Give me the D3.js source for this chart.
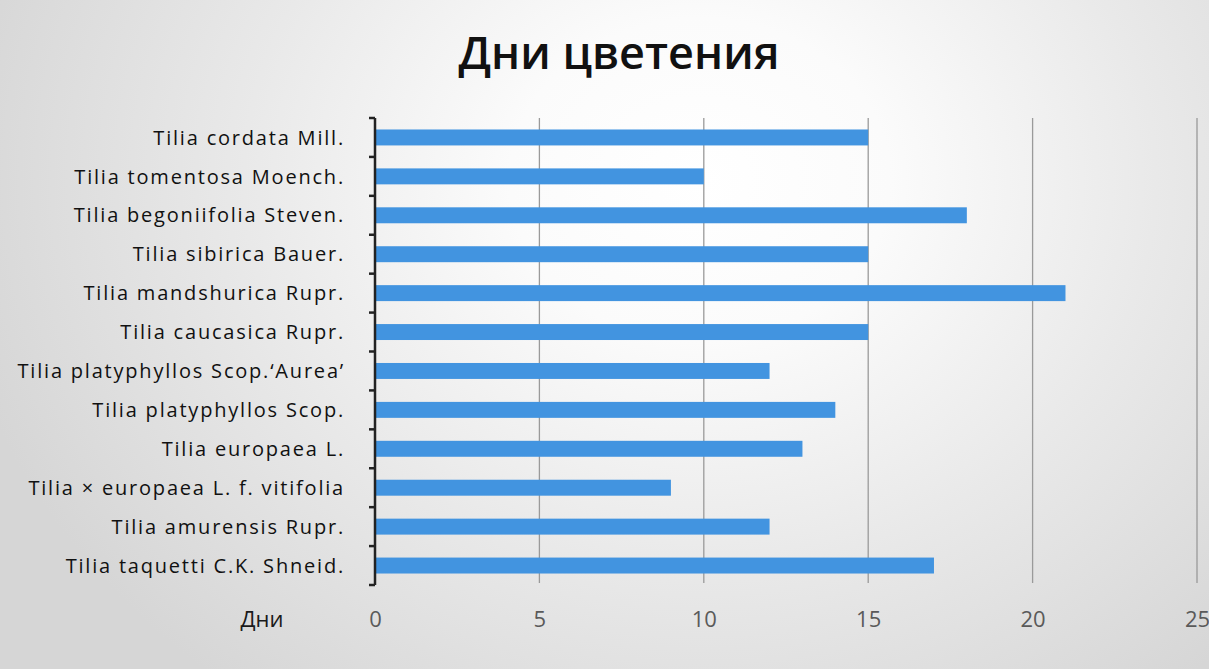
<!DOCTYPE html>
<html><head><meta charset="utf-8">
<script src="https://cdn.jsdelivr.net/npm/d3@7"></script>
<style>
html,body{margin:0;padding:0;background:#fff;}
svg{display:block;}
</style></head>
<body>
<svg id="chart" width="1209" height="669"></svg>
<script>
const title = "Дни цветения";
const axisName = "Дни";
const categories = [
  "Tilia cordata Mill.",
  "Tilia tomentosa Moench.",
  "Tilia begoniifolia Steven.",
  "Tilia sibirica Bauer.",
  "Tilia mandshurica Rupr.",
  "Tilia caucasica Rupr.",
  "Tilia platyphyllos Scop.‘Aurea’",
  "Tilia platyphyllos Scop.",
  "Tilia europaea L.",
  "Tilia × europaea L. f. vitifolia",
  "Tilia amurensis Rupr.",
  "Tilia taquetti C.K. Shneid."
];
const days = [15, 10, 18, 15, 21, 15, 12, 14, 13, 9, 12, 17];
const xTicks = [0, 5, 10, 15, 20, 25];

const W = 1209, H = 669;
const svg = d3.select("#chart");
const defs = svg.append("defs");
const rg = defs.append("radialGradient").attr("id","bg")
  .attr("gradientUnits","userSpaceOnUse")
  .attr("cx",700).attr("cy",180).attr("r",760)
  .attr("gradientTransform","translate(700,180) scale(1,0.85) translate(-700,-180)");
rg.append("stop").attr("offset","0").attr("stop-color","#ffffff");
rg.append("stop").attr("offset","0.25").attr("stop-color","#fbfbfb");
rg.append("stop").attr("offset","0.6").attr("stop-color","#e9e9e9");
rg.append("stop").attr("offset","1").attr("stop-color","#d6d6d6");
svg.append("rect").attr("width",W).attr("height",H).attr("fill","url(#bg)");

const mL = 375, mR = 1197, mT = 118, mB = 585;
const x = d3.scaleLinear().domain([0,25]).range([mL,mR]);
const y = d3.scaleBand().domain(categories).range([mT,mB]).paddingInner(0.59).paddingOuter(0.295);

// gridlines
svg.append("g").selectAll("line").data(xTicks.filter(d=>d>0)).join("line")
  .attr("x1",d=>x(d)).attr("x2",d=>x(d)).attr("y1",mT).attr("y2",mB-2)
  .attr("stroke","#9a9a9a").attr("stroke-width",1.3);

// bars
svg.append("g").selectAll("rect").data(categories).join("rect")
  .attr("x",x(0)).attr("y",d=>y(d)).attr("height",y.bandwidth())
  .attr("width",(d,i)=>x(days[i])-x(0))
  .attr("fill","#4294e0");

// y axis
const yAxisG = svg.append("g").attr("transform",`translate(${mL},0)`);
yAxisG.append("line").attr("x1",0).attr("x2",0).attr("y1",mT).attr("y2",mB)
  .attr("stroke","#222").attr("stroke-width",2.5);
const bounds = d3.range(categories.length+1).map(i=>mT + i*(mB-mT)/categories.length);
yAxisG.selectAll("line.tk").data(bounds).join("line").attr("class","tk")
  .attr("x1",-6).attr("x2",0).attr("y1",d=>d).attr("y2",d=>d)
  .attr("stroke","#222").attr("stroke-width",2.5);
yAxisG.selectAll("text").data(categories).join("text")
  .attr("x",-30).attr("y",d=>y(d)+y.bandwidth()/2)
  .attr("dy","0.36em").attr("text-anchor","end")
  .attr("font-family","'Open Sans',sans-serif")
  .attr("font-size",20).attr("fill","#111")
  .attr("letter-spacing","1.8")
  .text(d=>d);

// x axis labels
const xAxisG = svg.append("g").attr("transform",`translate(0,619)`);
const xAxis = d3.axisBottom(x).tickValues(xTicks).tickSize(0).tickPadding(0);
xAxisG.call(xAxis);
xAxisG.select(".domain").remove();
xAxisG.selectAll("text").attr("y",0).attr("dy","0.35em")
  .attr("font-family","'Open Sans',sans-serif").attr("font-size",22).attr("fill","#5a5a5a");
svg.append("text").attr("x",262).attr("y",619).attr("dy","0.35em")
  .attr("text-anchor","middle").attr("font-family","'Open Sans',sans-serif")
  .attr("font-size",22).attr("fill","#1a1a1a").text(axisName);

// title
svg.append("text").attr("x",619).attr("y",69).attr("text-anchor","middle")
  .attr("font-family","'Open Sans',sans-serif").attr("font-weight",600)
  .attr("font-size",45).attr("fill","#111").text(title);
</script>
</body></html>
